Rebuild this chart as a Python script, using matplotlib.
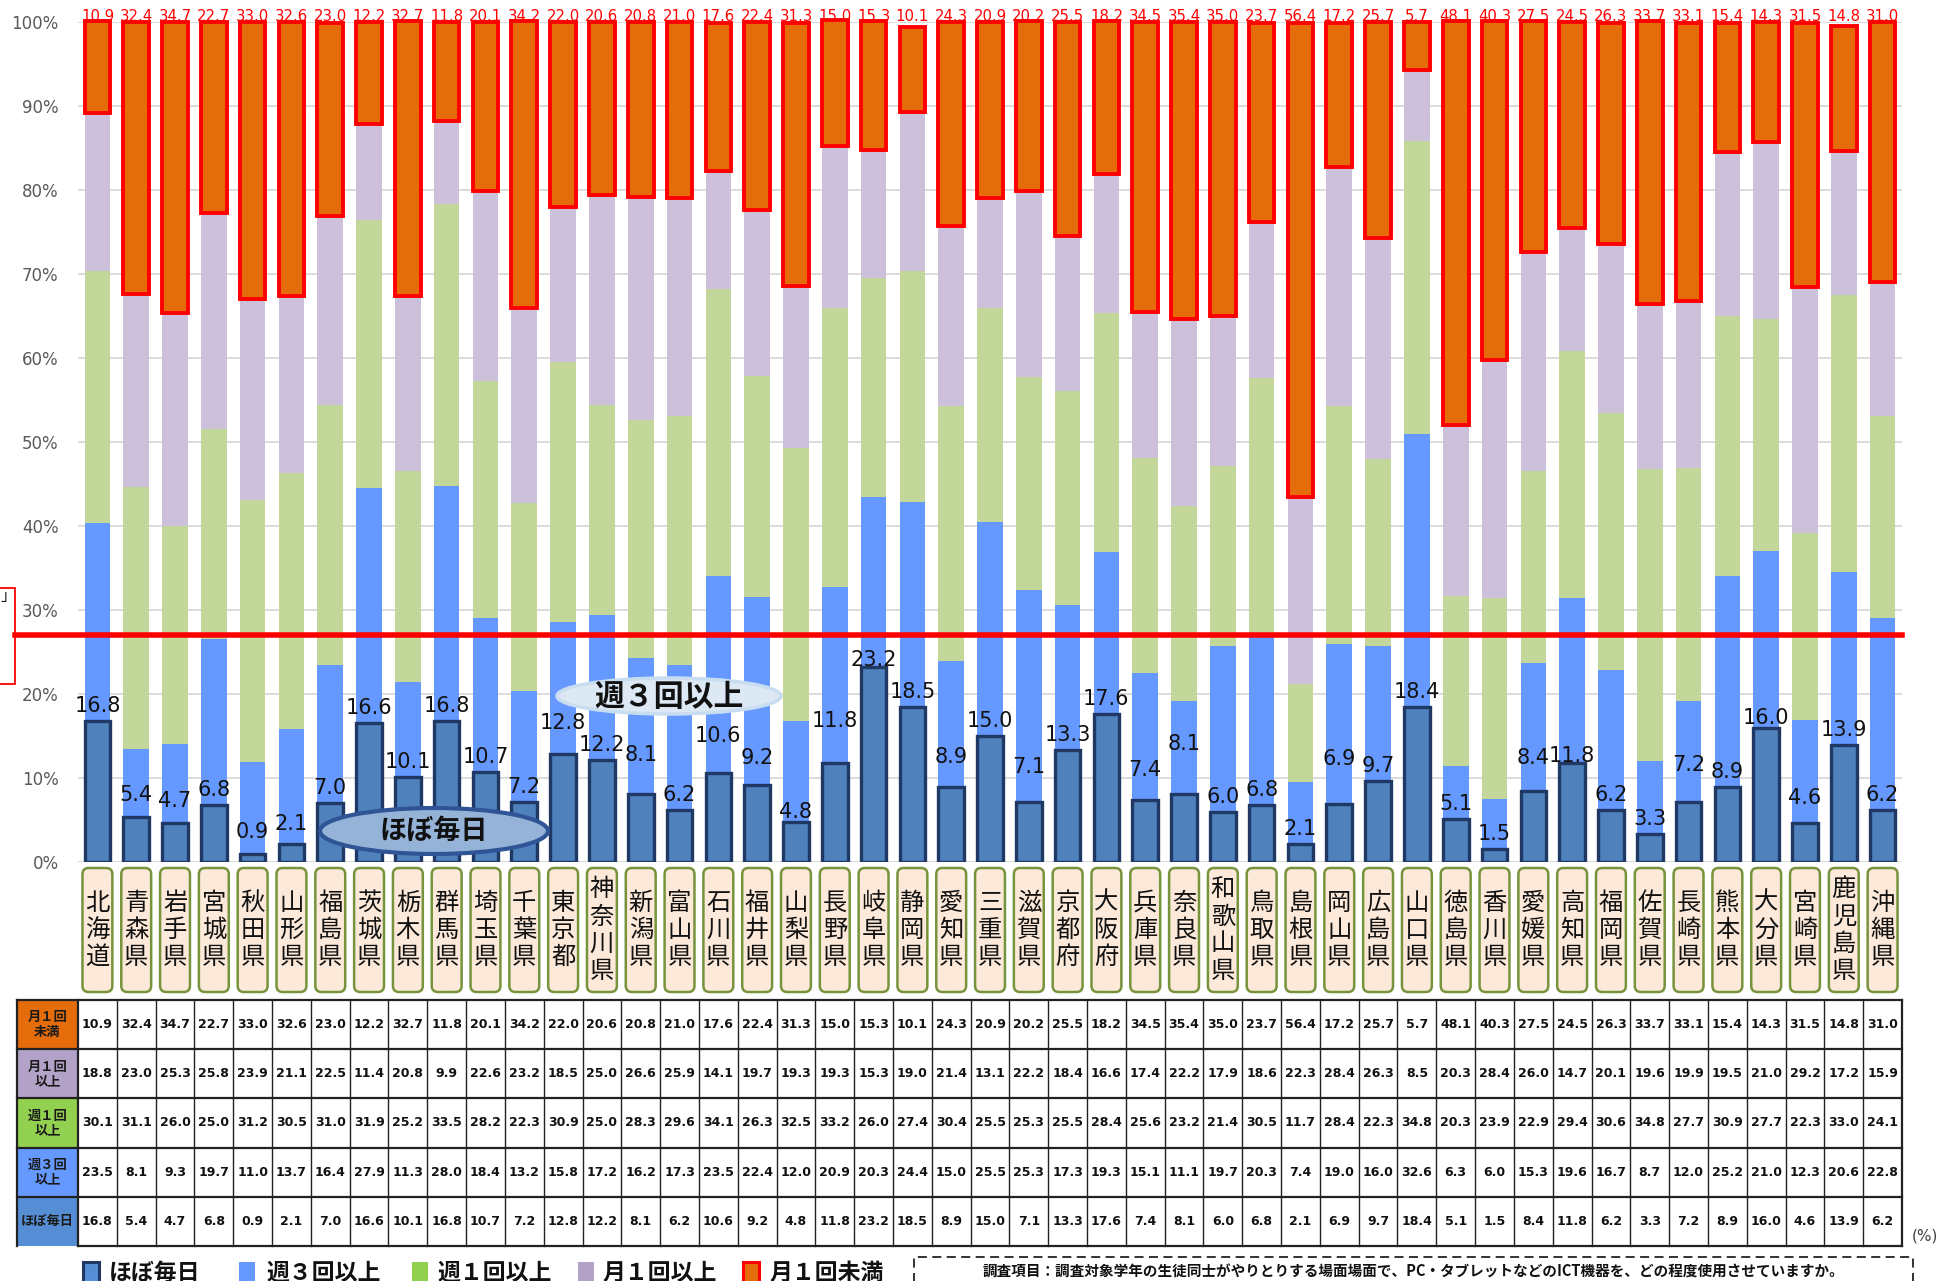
import matplotlib
matplotlib.use('Agg')
import matplotlib.pyplot as plt
from matplotlib.patches import Rectangle, FancyBboxPatch, Ellipse
import numpy as np

plt.rcParams['font.family'] = ['DejaVu Sans', 'Noto Sans CJK JP']
JP = ['Noto Sans CJK JP', 'DejaVu Sans']

prefectures = ['北海道', '青森県', '岩手県', '宮城県', '秋田県', '山形県', '福島県', '茨城県', '栃木県', '群馬県',
               '埼玉県', '千葉県', '東京都', '神奈川県', '新潟県', '富山県', '石川県', '福井県', '山梨県', '長野県',
               '岐阜県', '静岡県', '愛知県', '三重県', '滋賀県', '京都府', '大阪府', '兵庫県', '奈良県', '和歌山県',
               '鳥取県', '島根県', '岡山県', '広島県', '山口県', '徳島県', '香川県', '愛媛県', '高知県', '福岡県',
               '佐賀県', '長崎県', '熊本県', '大分県', '宮崎県', '鹿児島県', '沖縄県']

less_monthly = [10.9, 32.4, 34.7, 22.7, 33.0, 32.6, 23.0, 12.2, 32.7, 11.8,
                20.1, 34.2, 22.0, 20.6, 20.8, 21.0, 17.6, 22.4, 31.3, 15.0,
                15.3, 10.1, 24.3, 20.9, 20.2, 25.5, 18.2, 34.5, 35.4, 35.0,
                23.7, 56.4, 17.2, 25.7, 5.7, 48.1, 40.3, 27.5, 24.5, 26.3,
                33.7, 33.1, 15.4, 14.3, 31.5, 14.8, 31.0]
monthly = [18.8, 23.0, 25.3, 25.8, 23.9, 21.1, 22.5, 11.4, 20.8, 9.9,
           22.6, 23.2, 18.5, 25.0, 26.6, 25.9, 14.1, 19.7, 19.3, 19.3,
           15.3, 19.0, 21.4, 13.1, 22.2, 18.4, 16.6, 17.4, 22.2, 17.9,
           18.6, 22.3, 28.4, 26.3, 8.5, 20.3, 28.4, 26.0, 14.7, 20.1,
           19.6, 19.9, 19.5, 21.0, 29.2, 17.2, 15.9]
weekly = [30.1, 31.1, 26.0, 25.0, 31.2, 30.5, 31.0, 31.9, 25.2, 33.5,
          28.2, 22.3, 30.9, 25.0, 28.3, 29.6, 34.1, 26.3, 32.5, 33.2,
          26.0, 27.4, 30.4, 25.5, 25.3, 25.5, 28.4, 25.6, 23.2, 21.4,
          30.5, 11.7, 28.4, 22.3, 34.8, 20.3, 23.9, 22.9, 29.4, 30.6,
          34.8, 27.7, 30.9, 27.7, 22.3, 33.0, 24.1]
weekly3 = [23.5, 8.1, 9.3, 19.7, 11.0, 13.7, 16.4, 27.9, 11.3, 28.0,
           18.4, 13.2, 15.8, 17.2, 16.2, 17.3, 23.5, 22.4, 12.0, 20.9,
           20.3, 24.4, 15.0, 25.5, 25.3, 17.3, 19.3, 15.1, 11.1, 19.7,
           20.3, 7.4, 19.0, 16.0, 32.6, 6.3, 6.0, 15.3, 19.6, 16.7,
           8.7, 12.0, 25.2, 21.0, 12.3, 20.6, 22.8]
daily = [16.8, 5.4, 4.7, 6.8, 0.9, 2.1, 7.0, 16.6, 10.1, 16.8,
         10.7, 7.2, 12.8, 12.2, 8.1, 6.2, 10.6, 9.2, 4.8, 11.8,
         23.2, 18.5, 8.9, 15.0, 7.1, 13.3, 17.6, 7.4, 8.1, 6.0,
         6.8, 2.1, 6.9, 9.7, 18.4, 5.1, 1.5, 8.4, 11.8, 6.2,
         3.3, 7.2, 8.9, 16.0, 4.6, 13.9, 6.2]

row_labels = ['月１回\n未満', '月１回\n以上', '週１回\n以上', '週３回\n以上', 'ほぼ毎日']
legend_labels = ['ほぼ毎日', '週３回以上', '週１回以上', '月１回以上', '月１回未満']
yticks = [0, 10, 20, 30, 40, 50, 60, 70, 80, 90, 100]
ref_line = 27.0
callout_daily = 'ほぼ毎日'
callout_weekly3 = '週３回以上'
footnote = '調査項目：調査対象学年の生徒同士がやりとりする場面場面で、PC・タブレットなどのICT機器を、どの程度使用させていますか。'

# manual label nudges (pixels, layout only) as placed in the original
label_nudge_px = {1: 7, 2: 7, 4: 7, 5: 5, 12: 16, 14: 24, 16: 22, 17: 12, 18: -5, 19: 27,
                  20: -8, 22: 15, 24: 20, 27: 15, 28: 35, 32: 30, 37: 18, 38: -8, 41: 22,
                  43: -5, 44: 10}

# colours
C_DAILY, C_DAILY_EDGE = '#4F81BD', '#1F3864'
C_W3 = '#6699FF'
C_W1 = '#C4D79B'
C_M1 = '#CCC0DA'
C_LESS, C_LESS_EDGE = '#E46C0A', '#FF0000'

W, H = 1942, 1281
fig = plt.figure(figsize=(W / 100, H / 100), dpi=100)
fig.patch.set_facecolor('white')

def fx(px):
    return px / W

def fy(py):
    return 1 - py / H

# ---------------- main chart ----------------
ax = fig.add_axes([fx(78), fy(862), fx(1902) - fx(78), fy(22) - fy(862)])
x = np.arange(len(prefectures))
d = np.array(daily)
w3 = np.array(weekly3)
w1 = np.array(weekly)
m1 = np.array(monthly)
lm = np.array(less_monthly)
bw = 0.66

ax.bar(x, w3, bottom=d, width=bw, color=C_W3, zorder=2)
ax.bar(x, w1, bottom=d + w3, width=bw, color=C_W1, zorder=2)
ax.bar(x, m1, bottom=d + w3 + w1, width=bw, color=C_M1, zorder=2)
ax.bar(x, lm, bottom=d + w3 + w1 + m1, width=bw, color=C_LESS, edgecolor=C_LESS_EDGE,
       linewidth=2.8, zorder=3, clip_on=False)
ax.bar(x, d, width=bw, color=C_DAILY, edgecolor=C_DAILY_EDGE, linewidth=2.4, zorder=3)

for i, v in enumerate(daily):
    ax.annotate(f'{v:.1f}', (i, v), xytext=(0, 15 + label_nudge_px.get(i, 0)),
                textcoords='offset pixels', ha='center', va='center', fontsize=15,
                color='#111111', zorder=6)
for i, v in enumerate(less_monthly):
    ax.annotate(f'{v:.1f}', (i, 100), xytext=(0, 1), textcoords='offset points',
                ha='center', va='baseline', fontsize=10.7, color='#FF0000',
                annotation_clip=False, zorder=6)

ax.axhline(ref_line, xmin=-63 / 1824, xmax=1.0, color='#FF0000', lw=4, zorder=7, clip_on=False)

ax.set_xlim(-0.5, len(prefectures) - 0.5)
ax.set_ylim(0, 100)
ax.set_yticks(yticks)
ax.set_yticklabels([f'{t}%' for t in yticks])
ax.set_xticks([])
ax.tick_params(axis='y', length=0, pad=14, labelsize=12, labelcolor='#595959')
ax.yaxis.grid(True, color='#D9D9D9', lw=1.3)
ax.set_axisbelow(True)
for s in ax.spines.values():
    s.set_visible(False)

# ---------------- category label boxes ----------------
lab = fig.add_axes([fx(78), fy(996), fx(1902) - fx(78), fy(866) - fy(996)])
lab.set_xlim(-0.5, len(prefectures) - 0.5)
lab.set_ylim(130, 0)
lab.axis('off')
px_per_unit = 1824 / len(prefectures)
for i, name in enumerate(prefectures):
    box = FancyBboxPatch((i - 0.385, 2), 0.77, 124,
                         boxstyle='round,pad=0,rounding_size=0.16',
                         mutation_aspect=px_per_unit,
                         fc='#FDE9D9', ec='#77933C', lw=1.8, clip_on=False)
    lab.add_patch(box)
    n = len(name)
    for k, ch in enumerate(name):
        lab.text(i, 64 + (k - (n - 1) / 2) * 27, ch, ha='center', va='center',
                 fontsize=17.5, family=JP, color='#111111')

# ---------------- data table ----------------
tab = fig.add_axes([fx(78), fy(1246), fx(1902) - fx(78), fy(1000) - fy(1246)])
tab.set_xlim(-0.5, len(prefectures) - 0.5)
tab.set_ylim(5, 0)
tab.axis('off')
hdr_left = -0.5 - 61 / px_per_unit
rows = [less_monthly, monthly, weekly, weekly3, daily]
hdr_colors = ['#E46C0A', '#B3A2C7', '#92D050', '#6699FF', '#558ED5']
for r, (lbl, col, vals) in enumerate(zip(row_labels, hdr_colors, rows)):
    tab.add_patch(Rectangle((hdr_left, r), -0.5 - hdr_left, 1, fc=col, ec='none', clip_on=False))
    tab.text((hdr_left - 0.5) / 2, r + 0.5, lbl, ha='center', va='center', fontsize=9.5,
             weight='bold', family=JP, linespacing=1.05, color='#1a1a1a')
    for i, v in enumerate(vals):
        tab.text(i, r + 0.5, f'{v:.1f}', ha='center', va='center', fontsize=9,
                 weight='bold', color='#111111')
for r in range(6):
    tab.plot([hdr_left if r < 5 else -0.5, len(prefectures) - 0.5], [r, r], color='#222222',
             lw=1.6, clip_on=False)
for j in range(len(prefectures) + 1):
    tab.plot([j - 0.5, j - 0.5], [0, 5], color='#222222', lw=1.0 if 0 < j < len(prefectures) else 1.6,
             clip_on=False)
tab.plot([hdr_left, hdr_left], [0, 5], color='#222222', lw=1.6, clip_on=False)

fig.text(fx(1925), fy(1236), '(%)', ha='center', va='center', fontsize=11, color='#404040')

# ---------------- callouts ----------------
fig.add_artist(Ellipse((fx(434), fy(831)), fx(228), 46 / H, transform=fig.transFigure,
                       fc='#95B3D7', ec='#2F5597', lw=3, zorder=5))
fig.text(fx(434), fy(831), callout_daily, ha='center', va='center', fontsize=19.5,
         weight='bold', family=JP, color='#111111', zorder=6)
fig.add_artist(Ellipse((fx(669), fy(696)), fx(224), 36 / H, transform=fig.transFigure,
                       fc='#DCE9F5', ec='#C9DDF0', lw=2.5, zorder=5))
fig.text(fx(669), fy(697), callout_weekly3, ha='center', va='center', fontsize=21.5,
         weight='bold', family=JP, color='#111111', zorder=6)

# cut-off callout box on the left edge
fig.add_artist(Rectangle((fx(-6), fy(684)), fx(21), 96 / H, transform=fig.transFigure,
                         fill=False, ec='#FF0000', lw=1.3))
fig.text(fx(0), fy(596), '」', ha='left', va='center', fontsize=11, family=JP, color='#111111')

# ---------------- legend ----------------
sq_x = [83, 239, 412, 578, 743]
tx_x = [109, 266, 437, 603, 770]
sq_fc = ['#558ED5', '#6699FF', '#92D050', '#B3A2C7', '#E46C0A']
sq_ec = ['#1F3864', 'none', 'none', 'none', '#FF0000']
for sx, tx, lbl, fc, ec in zip(sq_x, tx_x, legend_labels, sq_fc, sq_ec):
    fig.add_artist(Rectangle((fx(sx), fy(1284)), fx(16), 22 / H, transform=fig.transFigure,
                             fc=fc, ec=ec, lw=2.2 if ec != 'none' else 0))
    fig.text(fx(tx), fy(1273), lbl, ha='left', va='center', fontsize=16.5, weight='bold',
             family=JP, color='#111111')

fig.add_artist(Rectangle((fx(914), fy(1300)), fx(999), 43 / H, transform=fig.transFigure,
                         fill=False, ec='#222222', lw=1.3, ls=(0, (5, 3))))
fig.text(fx(1413), fy(1272), footnote, ha='center', va='center', fontsize=10.5,
         weight='bold', family=JP, color='#111111')

fig.savefig('out.png', dpi=100, facecolor='white')
